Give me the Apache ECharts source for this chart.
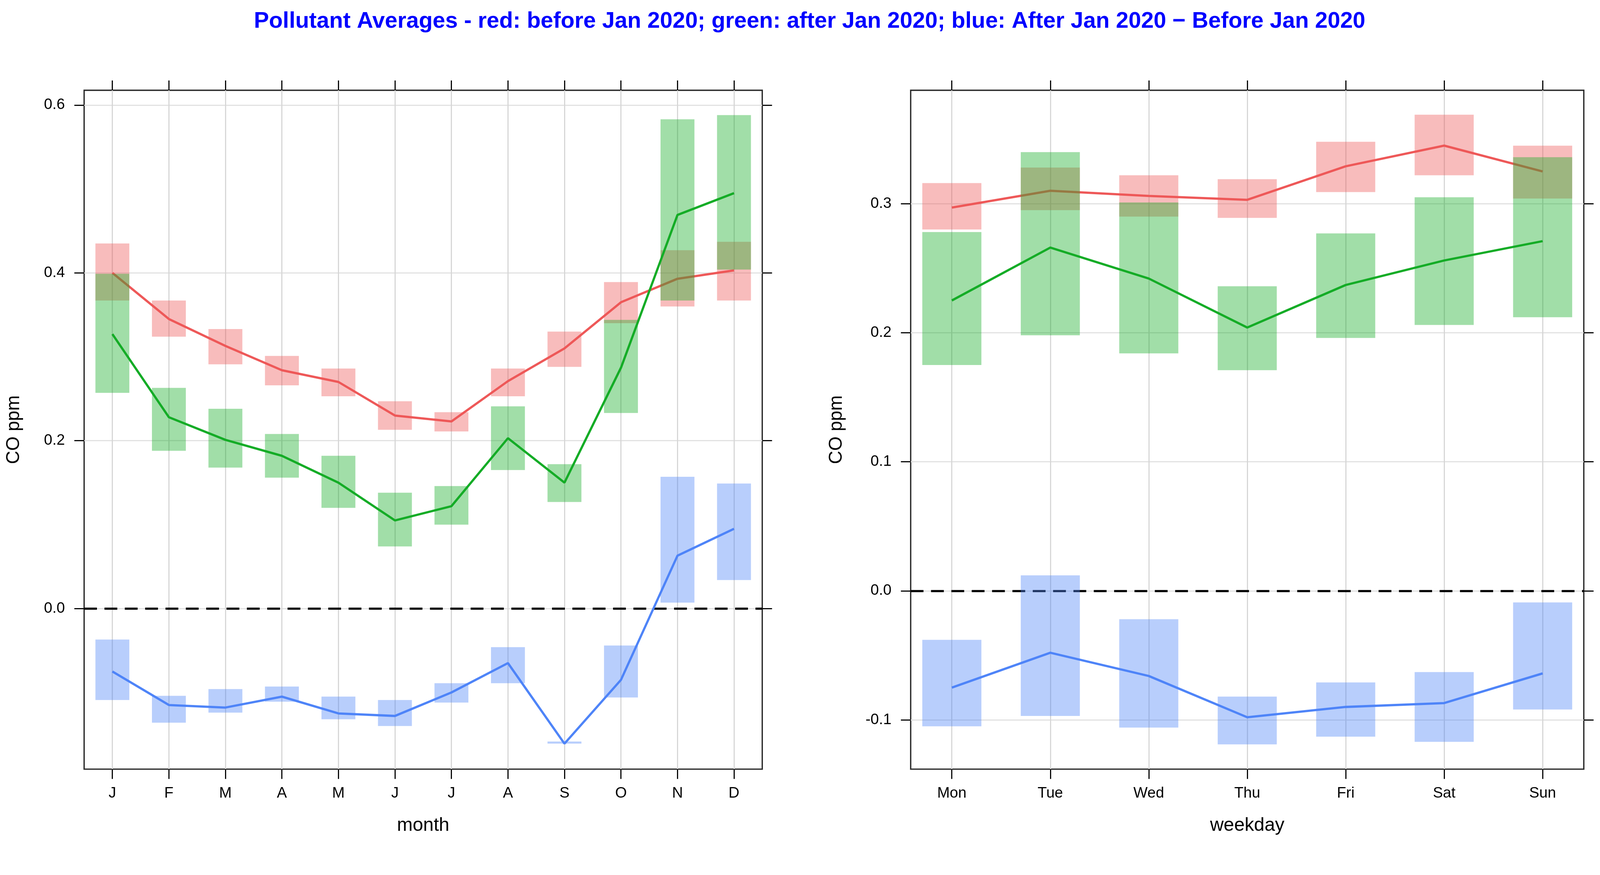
<!DOCTYPE html>
<html>
<head>
<meta charset="utf-8">
<script src="https://cdn.jsdelivr.net/npm/echarts@6/dist/echarts.min.js"></script>
<style>
html,body{margin:0;padding:0;background:#fff;overflow:hidden;}
#chart{width:100vw;height:100vh;}
</style>
</head>
<body>
<div id="chart"></div>
<script>
// ---------- data ----------
const titleText = "Pollutant Averages - red: before Jan 2020; green: after Jan 2020; blue: After Jan 2020 \u2212 Before Jan 2020";
const months = ["J","F","M","A","M","J","J","A","S","O","N","D"];
const weekdays = ["Mon","Tue","Wed","Thu","Fri","Sat","Sun"];

// month panel
const mRedMean = [0.400, 0.345, 0.313, 0.284, 0.270, 0.230, 0.223, 0.271, 0.310, 0.365, 0.393, 0.403];
const mRedLo   = [0.367, 0.324, 0.291, 0.266, 0.253, 0.213, 0.211, 0.253, 0.288, 0.340, 0.360, 0.367];
const mRedHi   = [0.435, 0.367, 0.333, 0.301, 0.286, 0.247, 0.234, 0.286, 0.330, 0.389, 0.427, 0.437];
const mGreenMean = [0.327, 0.228, 0.201, 0.182, 0.150, 0.105, 0.122, 0.203, 0.150, 0.287, 0.469, 0.495];
const mGreenLo   = [0.257, 0.188, 0.168, 0.156, 0.120, 0.074, 0.100, 0.165, 0.127, 0.233, 0.367, 0.404];
const mGreenHi   = [0.399, 0.263, 0.238, 0.208, 0.182, 0.138, 0.146, 0.241, 0.172, 0.344, 0.583, 0.588];
const mBlueMean = [-0.075, -0.115, -0.118, -0.105, -0.125, -0.128, -0.100, -0.065, -0.161, -0.085, 0.063, 0.095];
const mBlueLo   = [-0.109, -0.136, -0.124, -0.111, -0.132, -0.140, -0.112, -0.089, -0.161, -0.106, 0.007, 0.034];
const mBlueHi   = [-0.037, -0.104, -0.096, -0.093, -0.105, -0.109, -0.089, -0.046, -0.1585, -0.044, 0.157, 0.149];

// weekday panel
const wRedMean = [0.297, 0.310, 0.306, 0.303, 0.329, 0.345, 0.325];
const wRedLo   = [0.280, 0.295, 0.290, 0.289, 0.309, 0.322, 0.304];
const wRedHi   = [0.316, 0.328, 0.322, 0.319, 0.348, 0.369, 0.345];
const wGreenMean = [0.225, 0.266, 0.242, 0.204, 0.237, 0.256, 0.271];
const wGreenLo   = [0.175, 0.198, 0.184, 0.171, 0.196, 0.206, 0.212];
const wGreenHi   = [0.278, 0.340, 0.301, 0.236, 0.277, 0.305, 0.336];
const wBlueMean = [-0.075, -0.048, -0.066, -0.098, -0.090, -0.087, -0.064];
const wBlueLo   = [-0.105, -0.097, -0.106, -0.119, -0.113, -0.117, -0.092];
const wBlueHi   = [-0.038, 0.012, -0.022, -0.082, -0.071, -0.063, -0.009];

const monthTicks = [0.0, 0.2, 0.4, 0.6];
const weekdayTicks = [-0.1, 0.0, 0.1, 0.2, 0.3];

// ---------- styling ----------
const el = document.getElementById('chart');
const S = Math.min(el.clientWidth / 4247, el.clientHeight / 2239);
const px = v => v * S;
const FONT = "'Liberation Sans', Arial, Helvetica, sans-serif";
const RED = 'rgb(238,88,88)', GREEN = 'rgb(20,172,38)', BLUE = 'rgb(78,132,248)';
const RED_BOX = 'rgba(238,88,88,0.4)', GREEN_BOX = 'rgba(20,172,38,0.4)', BLUE_BOX = 'rgba(78,132,248,0.4)';
const TICK_LEN = px(26);

function idx(n){ const a=[]; for(let i=0;i<n;i++) a.push(i); return a; }

function boxRender(fill){
  return function(params, api){
    const x = api.value(0), lo = api.value(1), hi = api.value(2);
    const p1 = api.coord([x, hi]);
    const p2 = api.coord([x, lo]);
    const w = api.size([1, 0])[0] * 0.6;
    return {type:'rect', shape:{x:p1[0]-w/2, y:p1[1], width:w, height:Math.max(p2[1]-p1[1],1)}, style:{fill:fill}};
  };
}

const tickStyle = {color:'#000', width:px(3)};

function xAxes(grid, names, min, max, title){
  const ticks = idx(names.length);
  return [
    {gridIndex:grid, type:'value', min:min, max:max, position:'bottom',
     axisLine:{show:false, onZero:false},
     axisTick:{show:true, customValues:ticks, length:TICK_LEN, inside:false, lineStyle:tickStyle},
     axisLabel:{show:true, customValues:ticks, formatter:(v)=>names[Math.round(v)], fontSize:px(40), margin:px(44), color:'#000', fontFamily:FONT},
     splitLine:{show:true, lineStyle:{color:'#d6d6d6', width:px(3)}},
     name:title, nameLocation:'middle', nameGap:px(125), nameTextStyle:{fontSize:px(50), color:'#000', fontFamily:FONT}},
    {gridIndex:grid, type:'value', min:min, max:max, position:'top',
     axisLine:{show:false, onZero:false},
     axisTick:{show:true, customValues:ticks, length:TICK_LEN, inside:false, lineStyle:tickStyle},
     axisLabel:{show:false}, splitLine:{show:false}}
  ];
}

function yAxes(grid, min, max, ticks, gap){
  return [
    {gridIndex:grid, type:'value', min:min, max:max, position:'left',
     axisLine:{show:false, onZero:false},
     axisTick:{show:true, customValues:ticks, length:TICK_LEN, inside:false, lineStyle:tickStyle},
     axisLabel:{show:true, customValues:ticks, formatter:(v)=>v.toFixed(1), fontSize:px(40), margin:px(51), color:'#000', fontFamily:FONT},
     splitLine:{show:true, lineStyle:{color:'#e2e2e2', width:px(3)}},
     name:'CO ppm', nameLocation:'middle', nameRotate:90, nameGap:px(gap), nameTextStyle:{fontSize:px(49), color:'#000', fontFamily:FONT}},
    {gridIndex:grid, type:'value', min:min, max:max, position:'right',
     axisLine:{show:false, onZero:false},
     axisTick:{show:true, customValues:ticks, length:TICK_LEN, inside:false, lineStyle:tickStyle},
     axisLabel:{show:false}, splitLine:{show:false}}
  ];
}

function panelSeries(xi, yi, lo1, hi1, mean1, lo2, hi2, mean2, lo3, hi3, mean3){
  const n = mean1.length;
  const box = (lo, hi) => idx(n).map(i => [i, lo[i], hi[i]]);
  const line = (m) => idx(n).map(i => [i, m[i]]);
  const common = {xAxisIndex:xi, yAxisIndex:yi};
  const lw = px(6);
  return [
    Object.assign({type:'custom', renderItem:boxRender(RED_BOX), data:box(lo1,hi1), encode:{x:0,y:[1,2]}, z:2, silent:true}, common),
    Object.assign({type:'line', data:line(mean1), showSymbol:false, symbol:'none', lineStyle:{color:RED, width:lw}, z:3, silent:true}, common),
    Object.assign({type:'custom', renderItem:boxRender(GREEN_BOX), data:box(lo2,hi2), encode:{x:0,y:[1,2]}, z:4, silent:true}, common),
    Object.assign({type:'line', data:line(mean2), showSymbol:false, symbol:'none', lineStyle:{color:GREEN, width:lw}, z:5, silent:true}, common),
    Object.assign({type:'custom', renderItem:boxRender(BLUE_BOX), data:box(lo3,hi3), encode:{x:0,y:[1,2]}, z:6, silent:true}, common),
    Object.assign({type:'line', data:line(mean3), showSymbol:false, symbol:'none', lineStyle:{color:BLUE, width:lw}, z:7, silent:true,
      markLine:{silent:true, symbol:'none', label:{show:false}, lineStyle:{color:'#000', width:px(5.5), type:[px(34),px(20)]}, data:[{yAxis:0}]}}, common)
  ];
}

const chart = echarts.init(el, null, {renderer:'canvas'});
const option = {
  backgroundColor:'#fff',
  animation:false,
  graphic:[{type:'text', x:px(2149), y:px(57), style:{text:titleText, fill:'#0000ff', font:"bold " + px(60) + "px 'Liberation Sans', Arial, sans-serif", textAlign:'center', textVerticalAlign:'middle'}}],
  grid:[
    {left:px(223.3), top:px(239.5), width:px(1800), height:px(1801.2), show:true, borderColor:'#2a2a2a', borderWidth:px(3.5), backgroundColor:'transparent'},
    {left:px(2417.3), top:px(239.5), width:px(1786.7), height:px(1801.2), show:true, borderColor:'#2a2a2a', borderWidth:px(3.5), backgroundColor:'transparent'}
  ],
  xAxis:[].concat(xAxes(0, months, -0.5, 11.5, 'month'), xAxes(1, weekdays, -0.418, 6.418, 'weekday')),
  yAxis:[].concat(yAxes(0, -0.1914, 0.6176, monthTicks, 162), yAxes(1, -0.1382, 0.3879, weekdayTicks, 172)),
  series:[].concat(
    panelSeries(0, 0, mRedLo, mRedHi, mRedMean, mGreenLo, mGreenHi, mGreenMean, mBlueLo, mBlueHi, mBlueMean),
    panelSeries(2, 2, wRedLo, wRedHi, wRedMean, wGreenLo, wGreenHi, wGreenMean, wBlueLo, wBlueHi, wBlueMean)
  )
};
chart.setOption(option);
window.addEventListener('resize', () => chart.resize());
</script>
</body>
</html>
